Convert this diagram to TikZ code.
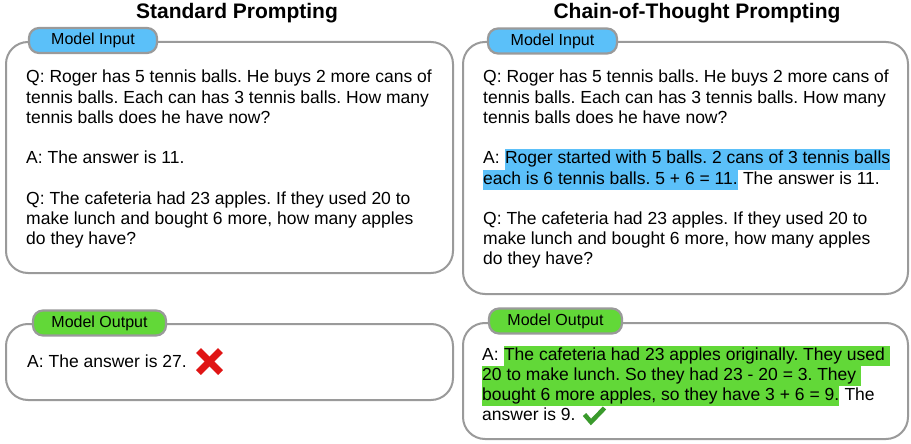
\documentclass[tikz,border=0pt]{standalone}
\usepackage{fontspec}
\setmainfont{Liberation Sans}
\definecolor{boxgray}{HTML}{9A9A9A}
\definecolor{inblue}{HTML}{5BC0F9}
\definecolor{outgreen}{HTML}{62D838}
\definecolor{xred}{HTML}{E01515}
\definecolor{checkgreen}{HTML}{3A9A2C}
\newcommand{\bodyfont}{\fontsize{17.5}{20.2}\selectfont}
\frenchspacing
\begin{document}
\begin{tikzpicture}[x=1pt,y=-1pt,
  title/.style={font=\fontsize{21}{24}\selectfont\bfseries, anchor=base, inner sep=0pt},
  panel/.style={draw=boxgray, line width=2pt, rounded corners=22pt, anchor=north west, inner sep=0pt, fill=white},
  tab/.style={draw=boxgray, line width=2.2pt, rounded corners=10pt, minimum height=25pt, inner sep=0pt, font=\fontsize{16}{18}\selectfont},
  txt/.style={anchor=base west, inner sep=0pt, font=\bodyfont},
  hlb/.style={txt, fill=inblue, text height=14.5pt, text depth=5.7pt},
  hlg/.style={txt, fill=outgreen, text height=14.5pt, text depth=5.7pt},
]
\useasboundingbox (0,0) rectangle (911,444);

% titles
\node[title] (t-std) at (237,19) {Standard Prompting};
\node[title] (t-cot) at (697,19) {Chain-of-Thought Prompting};

% panels
\node[panel, minimum width=447pt, minimum height=231pt] (p-li) at (5,41) {};
\node[panel, minimum width=447pt, minimum height=76pt] (p-lo) at (5,323) {};
\node[panel, minimum width=445pt, minimum height=252pt] (p-ri) at (462,41) {};
\node[panel, minimum width=445pt, minimum height=116pt] (p-ro) at (462,322) {};

% tabs
\node[tab, fill=inblue, minimum width=128pt] (tab-li) at (93,40.5) {Model Input};
\node[tab, fill=outgreen, minimum width=133pt] (tab-lo) at (99.5,323) {Model Output};
\node[tab, fill=inblue, minimum width=129pt] (tab-ri) at (552.5,41) {Model Input};
\node[tab, fill=outgreen, minimum width=133pt] (tab-ro) at (555.5,321) {Model Output};

% left input text
\node[txt] (li1) at (26,83) {Q: Roger has 5 tennis balls. He buys 2 more cans of};
\node[txt] (li2) at (26,103.2) {tennis balls. Each can has 3 tennis balls. How many};
\node[txt] (li3) at (26,123.4) {tennis balls does he have now?};
\node[txt] (li4) at (26,163.8) {A: The answer is 11.};
\node[txt] (li5) at (26,204.2) {Q: The cafeteria had 23 apples. If they used 20 to};
\node[txt] (li6) at (26,224.4) {make lunch and bought 6 more, how many apples};
\node[txt] (li7) at (26,244.6) {do they have?};

% left output
\node[txt] (lo1) at (27,367) {A: The answer is 27.};
\draw[xred, line width=7pt] (198.5,350.5) -- (220.5,372.5);
\draw[xred, line width=7pt] (220.5,350.5) -- (198.5,372.5);

% right input text
\node[txt] (ri1) at (483,83) {Q: Roger has 5 tennis balls. He buys 2 more cans of};
\node[txt] (ri2) at (483,103.2) {tennis balls. Each can has 3 tennis balls. How many};
\node[txt] (ri3) at (483,123.4) {tennis balls does he have now?};
\node[txt] (ri4a) at (483,163.8) {A:\ \null};
\node[hlb] (ri4b) at (ri4a.base east) {Roger started with 5 balls. 2 cans of 3 tennis balls};
\node[hlb] (ri5a) at (483,184) {each is 6 tennis balls. 5 + 6 = 11.};
\node[txt] (ri5b) at (ri5a.base east) {\null\ The answer is 11.};
\node[txt] (ri6) at (483,224.4) {Q: The cafeteria had 23 apples. If they used 20 to};
\node[txt] (ri7) at (483,244.6) {make lunch and bought 6 more, how many apples};
\node[txt] (ri8) at (483,264.8) {do they have?};

% right output text
\node[txt] (ro1a) at (482,360) {A:\ \null};
\node[hlg] (ro1b) at (ro1a.base east) {The cafeteria had 23 apples originally. They used\ \null};
\node[hlg] (ro2) at (482,380.2) {20 to make lunch. So they had 23 - 20 = 3. They\ \null};
\node[hlg] (ro3a) at (482,400.4) {bought 6 more apples, so they have 3 + 6 = 9.};
\node[txt] (ro3b) at (ro3a.base east) {\null\ The};
\node[txt] (ro4) at (482,420.6) {answer is 9.};
\draw[checkgreen, line width=4.5pt, line join=miter] (584.5,414.5) -- (591,422) -- (604.5,408);
\end{tikzpicture}
\end{document}
